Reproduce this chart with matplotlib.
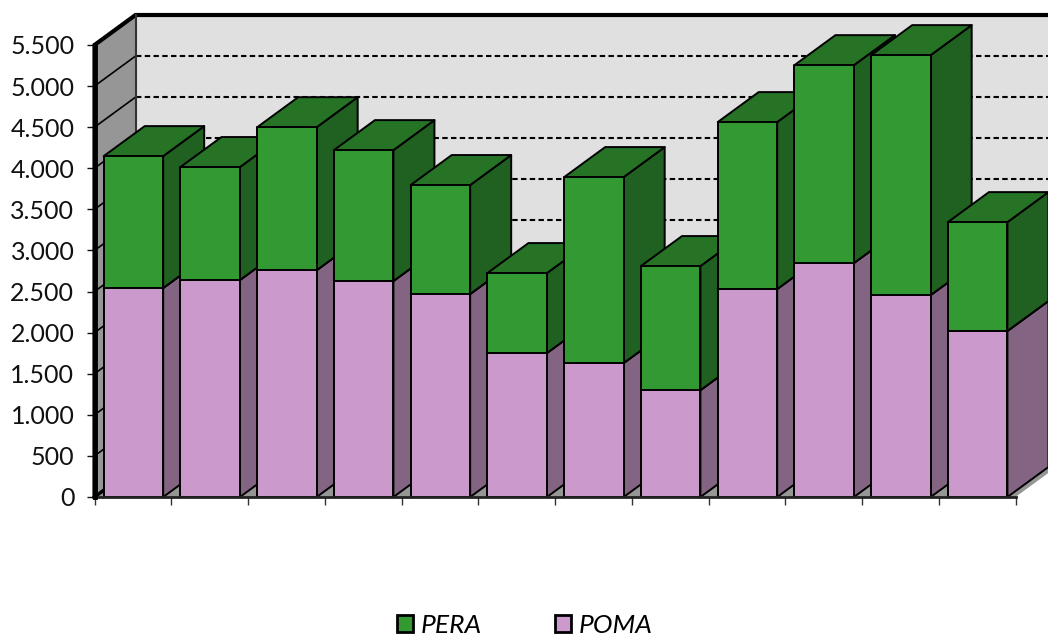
import numpy as np
import matplotlib
matplotlib.use('Agg')
import matplotlib.pyplot as plt
from matplotlib.patches import Polygon, Patch
from matplotlib.ticker import MultipleLocator, FuncFormatter

plt.rcParams['font.family'] = ['Lato', 'DejaVu Sans']

poma = [2543, 2640, 2760, 2628, 2470, 1752, 1630, 1300, 2530, 2847, 2457, 2020]
pera = [1605, 1375, 1740, 1593, 1326, 973, 2263, 1510, 2032, 2408, 2920, 1325]

pera_colors = {'front': '#339933', 'top': '#267326', 'side': '#206020'}
poma_colors = {'front': '#CC99CC', 'top': '#997399', 'side': '#836583'}

# depth of the fake 3d box, in data units
depth_x = 41 / 76.75
depth_y = 30 / 0.0822
bar_off = 0.12
bar_w = 0.775
y_max = 5500

fig = plt.figure(figsize=(10.48, 6.38), dpi=100)
ax = fig.add_axes([94.5 / 1048, (638 - 497) / 638, 921 / 1048, 452 / 638])
ax.set_xlim(0, len(poma))
ax.set_ylim(0, y_max)


def add_poly(pts, color, edge='black', lw=1.4, z=2):
    ax.add_patch(Polygon(pts, closed=True, facecolor=color, edgecolor=edge,
                         linewidth=lw, clip_on=False, zorder=z, joinstyle='round'))


def add_box(x0, y0, y1, colors):
    x1 = x0 + bar_w
    add_poly([(x1, y0), (x1 + depth_x, y0 + depth_y), (x1 + depth_x, y1 + depth_y), (x1, y1)], colors['side'])
    add_poly([(x0, y1), (x1, y1), (x1 + depth_x, y1 + depth_y), (x0 + depth_x, y1 + depth_y)], colors['top'])
    add_poly([(x0, y0), (x1, y0), (x1, y1), (x0, y1)], colors['front'])


n = len(poma)
# walls and floor
add_poly([(depth_x, depth_y), (n + depth_x, depth_y), (n + depth_x, y_max + depth_y), (depth_x, y_max + depth_y)],
         '#E0E0E0', edge='none', z=1)
add_poly([(0, 0), (depth_x, depth_y), (depth_x, y_max + depth_y), (0, y_max)], '#969696', edge='none', z=1)
add_poly([(0, 0), (n, 0), (n + depth_x, depth_y), (depth_x, depth_y)], '#969696', edge='none', z=1)

for v in np.arange(0, y_max + 1, 500):
    ax.plot([0, depth_x], [v, v + depth_y], color='black', lw=1.2, clip_on=False, zorder=1.5)
    if v < y_max:
        ax.plot([depth_x, n + depth_x], [v + depth_y, v + depth_y], color='black', lw=1.5,
                linestyle=(0, (2.6, 1.6)), clip_on=False, zorder=1.5)

# frame of the box
ax.plot([0, 0, depth_x, n + depth_x], [0, y_max, y_max + depth_y, y_max + depth_y],
        color='black', lw=3, clip_on=False, zorder=1.6, solid_joinstyle='miter')
ax.plot([depth_x, depth_x], [depth_y, y_max + depth_y], color='#333333', lw=1.5, clip_on=False, zorder=1.6)
ax.plot([0, depth_x], [0, depth_y], color='black', lw=2.5, clip_on=False, zorder=1.6)

for i in range(n):
    add_box(i + bar_off, 0, poma[i], poma_colors)
    add_box(i + bar_off, poma[i], poma[i] + pera[i], pera_colors)

ax.plot([0, n], [0, 0], color='#222222', lw=2, clip_on=False, zorder=3)
ax.plot([0, 0], [0, y_max], color='black', lw=3.5, clip_on=False, zorder=3)

for s in ax.spines.values():
    s.set_visible(False)
ax.patch.set_visible(False)
ax.xaxis.set_major_locator(MultipleLocator(1))
ax.set_xticklabels([])
ax.yaxis.set_major_locator(MultipleLocator(500))
ax.yaxis.set_major_formatter(FuncFormatter(lambda v, p: f'{int(v):,}'.replace(',', '.')))
ax.tick_params(axis='y', labelsize=18, length=5.5, width=1, pad=9, colors='#111111')
ax.tick_params(axis='x', length=5.5, width=1, colors='#333333')

handles = [Patch(facecolor=pera_colors['front'], edgecolor='black', linewidth=2, label='PERA'),
           Patch(facecolor=poma_colors['front'], edgecolor='black', linewidth=2, label='POMA')]
fig.legend(handles=handles, loc='lower left', bbox_to_anchor=(397 / 1048, 1 / 638), ncol=2, frameon=False,
           prop={'style': 'italic', 'size': 19}, handlelength=0.6, handleheight=0.6,
           handletextpad=0.3, columnspacing=2.76, borderpad=0, borderaxespad=0)

fig.savefig('out.png', dpi=100)
